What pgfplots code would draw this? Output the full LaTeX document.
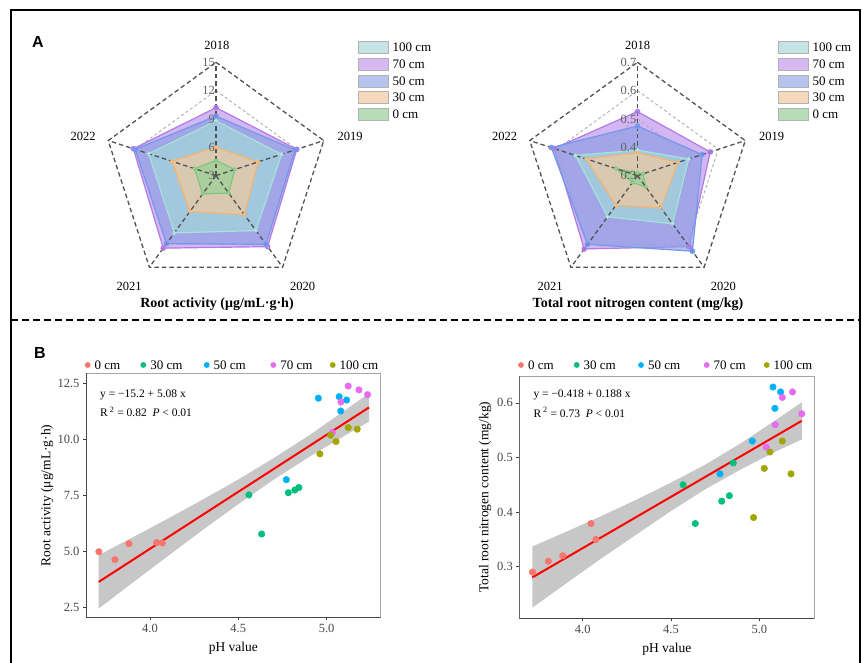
\documentclass[border=0pt]{standalone}
\usepackage{fontspec}
\setmainfont{Liberation Serif}
\newfontfamily\sansf{Liberation Sans}
\usepackage{pgfplots}
\pgfplotsset{compat=1.18}
\usepgfplotslibrary{polar}

\newcommand\fs[1]{\fontsize{#1}{#1}\selectfont}

% radar colours
\definecolor{f100}{HTML}{A3D8DA}
\definecolor{l100}{HTML}{A6E2D8}
\definecolor{f70}{HTML}{BF94EC}
\definecolor{l70}{HTML}{B07AE8}
\definecolor{f50}{HTML}{8C9FE6}
\definecolor{l50}{HTML}{7598E8}
\definecolor{f30}{HTML}{F5C99C}
\definecolor{l30}{HTML}{F5B470}
\definecolor{f0}{HTML}{94D294}
\definecolor{l0}{HTML}{80C680}
% legend boxes
\definecolor{b100}{HTML}{C5E3E4}
\definecolor{b70}{HTML}{D6B9F3}
\definecolor{b50}{HTML}{B4C4EE}
\definecolor{b30}{HTML}{F4D9BE}
\definecolor{b0}{HTML}{B7DDB6}
% ggplot hues
\definecolor{c0}{HTML}{F8766D}
\definecolor{c30}{HTML}{00BF7D}
\definecolor{c50}{HTML}{00B0F6}
\definecolor{c70}{HTML}{E76BF3}
\definecolor{c100}{HTML}{A3A500}

\pgfplotsset{
  radar/.style={
    width=226.6pt, height=226.6pt, scale only axis,
    anchor=origin, hide axis, clip=false,
    xmin=0, xmax=360,
  },
  rgrid/.style={gray!70, dash pattern=on 3pt off 2.5pt, line width=0.8pt, forget plot},
  rspoke/.style={black!68, dash pattern=on 4.5pt off 3pt, line width=1.3pt, forget plot},
  rser/.style={fill=f#1, fill opacity=0.68, draw=l#1, line width=1.2pt, mark=*, mark size=1.5pt,
    mark options={fill=white, fill opacity=1, draw=l#1}},
  sc/.style={
    scale only axis, anchor=south west,
    tick pos=left, tick align=outside, major tick length=3pt,
    tick style={black!75, line width=0.6pt},
    axis line style={draw=black!35, line width=0.6pt},
    /pgf/number format/assume math mode=true,
    xtick={4,4.5,5},
    ticklabel style={/pgf/number format/.cd, fixed, fixed zerofill, precision=1, /tikz/.cd,
      font=\fs{12.5}, text=black!72},
    label style={font=\fs{13.5}},
    xlabel={pH value},
    xlabel style={at={(axis description cs:0.5,-0.127)}, anchor=center},
  },
  pts/.style={only marks, mark=*, mark size=3.3pt, color=#1},
}

\begin{document}
\begin{tikzpicture}
\useasboundingbox (0pt,0pt) rectangle (863pt,663pt);
% outer frame and separator
\draw[line width=1.3pt] (11pt,-5pt) -- (11pt,653pt) -- (860pt,653pt) -- (860pt,-5pt);
\draw[line width=1.3pt, dash pattern=on 7pt off 4pt] (11pt,343pt) -- (860pt,343pt);
\node[font=\sansf\bfseries\fs{16}] at (38pt,621pt) {A};
\node[font=\sansf\bfseries\fs{16}] at (40pt,310pt) {B};

% ---------------- radar: root activity ----------------
\begin{polaraxis}[radar, at={(216pt,487.4pt)},
  ymin=3, ymax=15,
  y coord trafo/.code={\pgfmathparse{#1-3}},
  y coord inv trafo/.code={\pgfmathparse{#1+3}}]
\addplot[rgrid] coordinates {(90,6)(18,6)(306,6)(234,6)(162,6)(90,6)};
\addplot[rgrid] coordinates {(90,9)(18,9)(306,9)(234,9)(162,9)(90,9)};
\addplot[rgrid] coordinates {(90,12)(18,12)(306,12)(234,12)(162,12)(90,12)};
% 70 cm
\addplot[rser=70, mark size=2.2pt, mark options={fill=l70}] coordinates {(90,10.2)(18,12.0)(306,12.3)(234,12.5)(162,12.2)} --cycle;
% 50 cm
\addplot[rser=50, mark size=2.2pt, mark options={fill=l50}] coordinates {(90,9.3)(18,11.8)(306,12.0)(234,11.9)(162,12.0)} --cycle;
% 100 cm
\addplot[rser=100] coordinates {(90,8.8)(18,10.3)(306,10.2)(234,10.5)(162,10.5)} --cycle;
% 30 cm
\addplot[rser=30] coordinates {(90,6.0)(18,7.7)(306,8.1)(234,7.7)(162,7.9)} --cycle;
% 0 cm
\addplot[rser=0] coordinates {(90,4.6)(18,5.1)(306,5.3)(234,5.4)(162,5.4)} --cycle;
% spokes and outer ring
\addplot[rspoke] coordinates {(90,15)(18,15)(306,15)(234,15)(162,15)(90,15)};
\addplot[rspoke] coordinates {(90,3)(90,15)};
\addplot[rspoke] coordinates {(18,3)(18,15)};
\addplot[rspoke] coordinates {(306,3)(306,15)};
\addplot[rspoke] coordinates {(234,3)(234,15)};
\addplot[rspoke] coordinates {(162,3)(162,15)};
\foreach \v in {3,6,9,12,15}{
  \edef\tmp{\noexpand\node[anchor=east, inner sep=1pt, text=black!62, font=\noexpand\fs{12.5}] at (axis cs:90,\v) {\v};}\tmp
}
\end{polaraxis}
\node[font=\fs{12.5}] at (216.8pt,618pt) {2018};
\node[font=\fs{12.5}] at (350pt,527pt) {2019};
\node[font=\fs{12.5}] at (302.5pt,377pt) {2020};
\node[font=\fs{12.5}] at (129pt,377pt) {2021};
\node[font=\fs{12.5}] at (83pt,527pt) {2022};
\node[font=\bfseries\fs{14}] at (217pt,359pt) {Root activity (μg/mL·g·h)};

% ---------------- radar: total root N ----------------
\begin{polaraxis}[radar, at={(637.5pt,487.4pt)},
  ymin=0.3, ymax=0.7,
  y coord trafo/.code={\pgfmathparse{#1-0.3}},
  y coord inv trafo/.code={\pgfmathparse{#1+0.3}}]
\addplot[rgrid] coordinates {(90,0.4)(18,0.4)(306,0.4)(234,0.4)(162,0.4)(90,0.4)};
\addplot[rgrid] coordinates {(90,0.5)(18,0.5)(306,0.5)(234,0.5)(162,0.5)(90,0.5)};
\addplot[rgrid] coordinates {(90,0.6)(18,0.6)(306,0.6)(234,0.6)(162,0.6)(90,0.6)};
\addplot[rser=70, mark size=2.2pt, mark options={fill=l70}] coordinates {(90,0.526)(18,0.57)(306,0.61)(234,0.62)(162,0.61)} --cycle;
\addplot[rser=50, mark size=2.2pt, mark options={fill=l50}] coordinates {(90,0.475)(18,0.54)(306,0.63)(234,0.60)(162,0.62)} --cycle;
\addplot[rser=100] coordinates {(90,0.39)(18,0.49)(306,0.51)(234,0.48)(162,0.53)} --cycle;
\addplot[rser=30] coordinates {(90,0.38)(18,0.45)(306,0.44)(234,0.43)(162,0.49)} --cycle;
\addplot[rser=0] coordinates {(90,0.31)(18,0.32)(306,0.35)(234,0.33)(162,0.38)} --cycle;
\addplot[rspoke] coordinates {(90,0.7)(18,0.7)(306,0.7)(234,0.7)(162,0.7)(90,0.7)};
\addplot[rspoke] coordinates {(90,0.3)(90,0.7)};
\addplot[rspoke] coordinates {(18,0.3)(18,0.7)};
\addplot[rspoke] coordinates {(306,0.3)(306,0.7)};
\addplot[rspoke] coordinates {(234,0.3)(234,0.7)};
\addplot[rspoke] coordinates {(162,0.3)(162,0.7)};
\foreach \v in {0.3,0.4,0.5,0.6,0.7}{
  \edef\tmp{\noexpand\node[anchor=east, inner sep=1pt, text=black!62, font=\noexpand\fs{12.5}] at (axis cs:90,\v) {\v};}\tmp
}
\end{polaraxis}
\node[font=\fs{12.5}] at (637.5pt,618pt) {2018};
\node[font=\fs{12.5}] at (771.5pt,527pt) {2019};
\node[font=\fs{12.5}] at (723.3pt,377pt) {2020};
\node[font=\fs{12.5}] at (550pt,377pt) {2021};
\node[font=\fs{12.5}] at (504.5pt,527pt) {2022};
\node[font=\bfseries\fs{14}] at (638pt,359pt) {Total root nitrogen content (mg/kg)};

% radar legends
\foreach \xo in {0,420}{
  \foreach \c/\t [count=\i] in {b100/100 cm, b70/70 cm, b50/50 cm, b30/30 cm, b0/0 cm}{
    \pgfmathsetmacro\yy{632-16.6*\i}
    \filldraw[fill=\c, draw=black!30, line width=0.4pt] (358.3pt+\xo pt,\yy pt-6pt) rectangle (388.3pt+\xo pt,\yy pt+6pt);
    \node[anchor=west, font=\fs{13}, inner sep=0pt] at (392.5pt+\xo pt,\yy pt) {\t};
  }
}

% ---------------- scatter: root activity ----------------
\begin{axis}[sc, at={(86pt,45.7pt)}, width=294.7pt, height=244pt,
  xmin=3.638, xmax=5.306, ymin=2.07, ymax=12.94,
  ytick={2.5,5,7.5,10,12.5},
  ylabel={Root activity (μg/mL·g·h)},
  ylabel style={at={(axis description cs:-0.132,0.5)}, anchor=center}]
\addplot[pts=c0] coordinates {(3.711,4.99)(3.802,4.64)(3.881,5.35)(4.038,5.40)(4.070,5.38)};
\addplot[pts=c30] coordinates {(4.560,7.52)(4.632,5.78)(4.783,7.62)(4.820,7.74)(4.843,7.85)};
\addplot[pts=c50] coordinates {(4.772,8.20)(4.953,11.83)(5.071,11.90)(5.113,11.75)(5.080,11.26)};
\addplot[pts=c70] coordinates {(5.122,12.37)(5.183,12.20)(5.232,11.99)(5.081,11.66)(5.032,10.30)};
\addplot[pts=c100] coordinates {(4.962,9.35)(5.053,9.90)(5.022,10.18)(5.122,10.52)(5.173,10.45)};
% confidence band
\addplot[fill=black!40, fill opacity=0.55, draw=none] coordinates {
 (3.71,4.84)(3.9,5.62)(4.1,6.46)(4.3,7.32)(4.5,8.21)(4.7,9.16)(4.9,10.17)(5.1,11.27)(5.24,12.05)
 (5.24,10.79)(5.1,10.15)(4.9,9.21)(4.7,8.20)(4.5,7.11)(4.3,5.97)(4.1,4.79)(3.9,3.60)(3.71,2.46)} --cycle;
\addplot[red, line width=2pt] coordinates {(3.71,3.647)(5.24,11.419)};
\draw[black!72, line width=0.7pt] (rel axis cs:0,1) -- (rel axis cs:0,0) -- (rel axis cs:1,0);
\node[anchor=west, font=\fs{11.5}, inner sep=0pt] at (rel axis cs:0.0475,0.911) {y = −15.2 + 5.08 x};
\node[anchor=west, font=\fs{11.5}, inner sep=0pt] at (rel axis cs:0.0475,0.843) {R\textsuperscript{ 2} = 0.82\ \ \textit{P} < 0.01};
\end{axis}

% ---------------- scatter: total root N ----------------
\begin{axis}[sc, at={(519.3pt,44.7pt)}, width=295pt, height=242.3pt,
  xmin=3.641, xmax=5.311, ymin=0.2055, ymax=0.6492,
  ytick={0.3,0.4,0.5,0.6},
  ylabel={Total root nitrogen content (mg/kg)},
  ylabel style={at={(axis description cs:-0.116,0.5)}, anchor=center}]
\addplot[pts=c0] coordinates {(3.715,0.290)(3.805,0.310)(3.887,0.320)(4.047,0.379)(4.075,0.350)};
\addplot[pts=c30] coordinates {(4.568,0.450)(4.637,0.379)(4.787,0.420)(4.830,0.430)(4.852,0.490)};
\addplot[pts=c50] coordinates {(4.777,0.470)(4.960,0.530)(5.077,0.629)(5.120,0.620)(5.088,0.590)};
\addplot[pts=c70] coordinates {(5.188,0.620)(5.130,0.610)(5.240,0.580)(5.090,0.560)(5.039,0.519)};
\addplot[pts=c100] coordinates {(5.130,0.530)(5.060,0.510)(5.028,0.480)(5.179,0.470)(4.967,0.390)};
\addplot[fill=black!40, fill opacity=0.55, draw=none] coordinates {
 (3.715,0.337)(3.9,0.363)(4.1,0.392)(4.3,0.422)(4.5,0.454)(4.7,0.488)(4.9,0.527)(5.1,0.570)(5.24,0.601)
 (5.24,0.533)(5.1,0.512)(4.9,0.479)(4.7,0.443)(4.5,0.402)(4.3,0.358)(4.1,0.314)(3.9,0.268)(3.715,0.225)} --cycle;
\addplot[red, line width=2pt] coordinates {(3.715,0.2804)(5.24,0.5671)};
\draw[black!72, line width=0.7pt] (rel axis cs:0,1) -- (rel axis cs:0,0) -- (rel axis cs:1,0);
\node[anchor=west, font=\fs{11.5}, inner sep=0pt] at (rel axis cs:0.0475,0.922) {y = −0.418 + 0.188 x};
\node[anchor=west, font=\fs{11.5}, inner sep=0pt] at (rel axis cs:0.0475,0.850) {R\textsuperscript{ 2} = 0.73\ \ \textit{P} < 0.01};
\end{axis}

% scatter legends
\foreach \c/\t/\xx in {c0/0 cm/87.7, c30/30 cm/143.3, c50/50 cm/206.7, c70/70 cm/273.3, c100/100 cm/332.7,
                       c0/0 cm/521, c30/30 cm/576.7, c50/50 cm/641, c70/70 cm/706.7, c100/100 cm/766.7}{
  \fill[\c] (\xx pt,298pt) circle (2.9pt);
  \node[anchor=west, font=\fs{13}, inner sep=0pt] at (\xx pt+6.8pt,298pt) {\t};
}
\end{tikzpicture}
\end{document}
